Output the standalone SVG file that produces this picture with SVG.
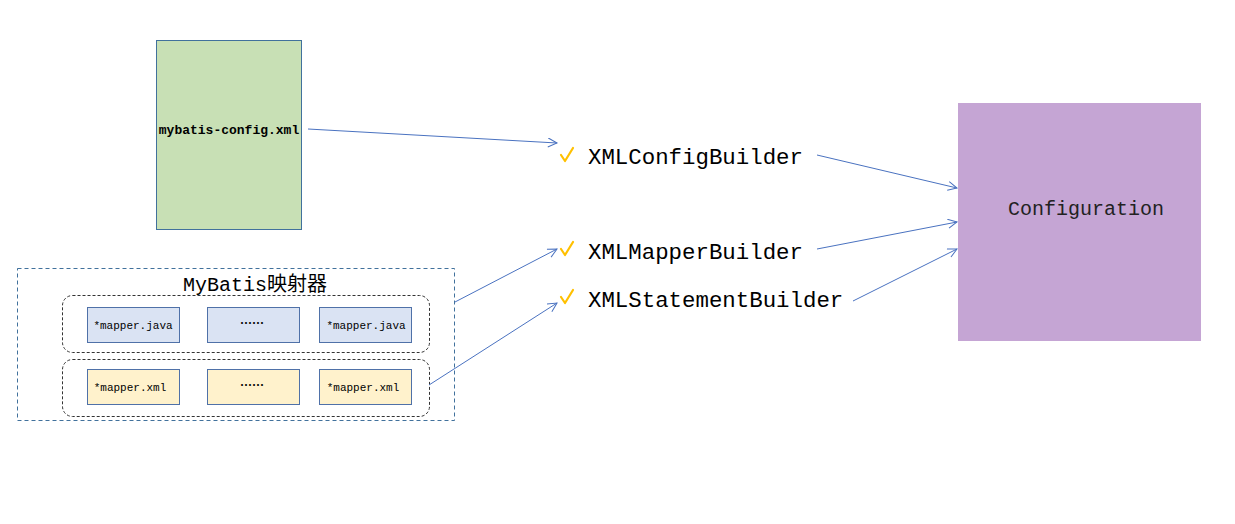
<svg xmlns="http://www.w3.org/2000/svg" width="1235" height="524" viewBox="0 0 1235 524">
<defs>
<style>
.conn{fill:none;stroke:#4a72c0;stroke-width:1;marker-end:url(#arr)}
.mono{font-family:"Liberation Mono","Noto Sans CJK SC",monospace;fill:#000}
.small{font-size:11px}
.dots{font-family:"Noto Sans CJK SC",sans-serif;font-size:12px;font-weight:bold;fill:#000}
.jb{fill:#dae3f3;stroke:#4f71a8;stroke-width:1}
.xb{fill:#fff2cc;stroke:#4f71a8;stroke-width:1}
.grp{fill:none;stroke:#333;stroke-width:1;stroke-dasharray:3,2}
.builder{font-family:"Liberation Mono","Noto Sans CJK SC",monospace;font-size:22.4px;fill:#000}
.chk{fill:none;stroke:#ffc000;stroke-width:2.2;stroke-linecap:round;stroke-linejoin:round}
</style>
<marker id="arr" markerWidth="12" markerHeight="12" refX="10" refY="5" orient="auto" markerUnits="userSpaceOnUse">
<path d="M1,0.5 L10,5 L1,9.5" fill="none" stroke="#4a72c0" stroke-width="1"/>
</marker>
</defs>
<rect width="1235" height="524" fill="#fff"/>

<g id="mybatis-config">
<rect x="156.5" y="40.5" width="145" height="189" fill="#c8e0b5" stroke="#41719c"/>
<text x="229" y="134" class="mono" font-size="13" font-weight="bold" text-anchor="middle">mybatis-config.xml</text>
</g>

<g id="mapper-group">
<rect x="17.5" y="268.5" width="437" height="152" fill="none" stroke="#41719c" stroke-dasharray="4,3"/>
<text x="255" y="291" font-family="Liberation Mono,'Noto Sans CJK SC',monospace" font-size="20" text-anchor="middle" fill="#000">MyBatis映射器</text>
<rect class="grp" x="62.5" y="295.5" width="367" height="57" rx="10"/>
<rect class="grp" x="62.5" y="359.5" width="367" height="57" rx="10"/>
</g>

<g id="java1"><rect class="jb" x="87.5" y="307.5" width="92" height="35"/><text x="133" y="329" class="mono small" text-anchor="middle">*mapper.java</text></g>
<g id="java2"><rect class="jb" x="207.5" y="307.5" width="92" height="35"/><text x="252" y="328" class="dots" text-anchor="middle">……</text></g>
<g id="java3"><rect class="jb" x="319.5" y="307.5" width="92" height="35"/><text x="366" y="329" class="mono small" text-anchor="middle">*mapper.java</text></g>
<g id="xml1"><rect class="xb" x="87.5" y="369.5" width="92" height="35"/><text x="130" y="391" class="mono small" text-anchor="middle">*mapper.xml</text></g>
<g id="xml2"><rect class="xb" x="207.5" y="369.5" width="92" height="35"/><text x="252" y="390" class="dots" text-anchor="middle">……</text></g>
<g id="xml3"><rect class="xb" x="319.5" y="369.5" width="92" height="35"/><text x="363" y="391" class="mono small" text-anchor="middle">*mapper.xml</text></g>

<g id="XMLConfigBuilder">
<path class="chk" d="M561,155 L565,161 L573,148"/>
<text x="588" y="164" class="builder">XMLConfigBuilder</text>
</g>
<g id="XMLMapperBuilder">
<path class="chk" d="M561,249 L565,255 L573,242"/>
<text x="588" y="259" class="builder">XMLMapperBuilder</text>
</g>
<g id="XMLStatementBuilder">
<path class="chk" d="M561,297 L565,303 L573,290"/>
<text x="588" y="307" class="builder">XMLStatementBuilder</text>
</g>

<g id="Configuration">
<rect x="958" y="103" width="243" height="238" fill="#c5a5d4"/>
<text x="1086" y="215" font-family="Liberation Mono,monospace" font-size="20" text-anchor="middle" fill="#222">Configuration</text>
</g>

<g id="connectors">
<line class="conn" x1="308" y1="129" x2="557" y2="143"/>
<line class="conn" x1="455" y1="302" x2="557" y2="249"/>
<line class="conn" x1="429" y1="385" x2="557" y2="303"/>
<line class="conn" x1="817" y1="155" x2="957" y2="188"/>
<line class="conn" x1="817" y1="249" x2="957" y2="222"/>
<line class="conn" x1="853" y1="301" x2="957" y2="249"/>
</g>
</svg>
